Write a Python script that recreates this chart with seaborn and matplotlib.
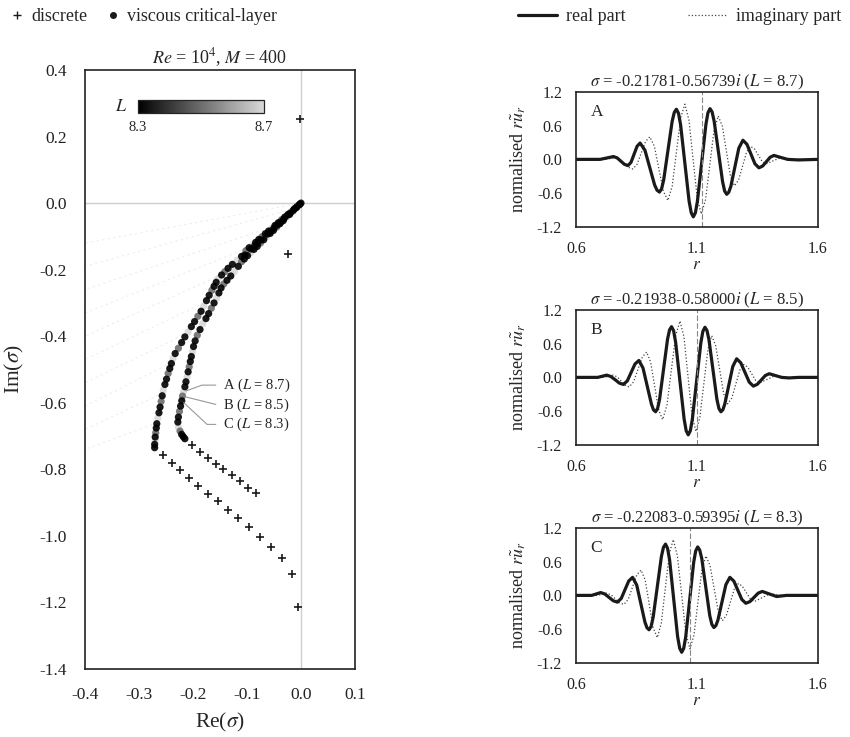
import numpy as np
import pandas as pd
import seaborn as sns
import matplotlib.pyplot as plt
from matplotlib.colors import ListedColormap, Normalize
from matplotlib.cm import ScalarMappable
from matplotlib.lines import Line2D

sns.set_theme(style='white')
plt.rcParams['font.family'] = ['Liberation Serif', 'DejaVu Serif']
plt.rcParams['mathtext.fontset'] = 'stix'
plt.rcParams['axes.unicode_minus'] = False

# ---- spectrum (left panel) ----
# discrete modes
disc_re = [-0.201, -0.187, -0.173, -0.158, -0.144, -0.128, -0.113, -0.098, -0.083,
           -0.255, -0.239, -0.224, -0.207, -0.190, -0.173, -0.154, -0.136, -0.117,
           -0.096, -0.076, -0.056, -0.035, -0.016, -0.006, -0.002, -0.024]
disc_im = [-0.726, -0.748, -0.766, -0.783, -0.800, -0.818, -0.836, -0.855, -0.871,
           -0.756, -0.780, -0.803, -0.826, -0.850, -0.873, -0.896, -0.921, -0.946,
           -0.973, -1.002, -1.032, -1.066, -1.116, -1.214, 0.252, -0.153]

# viscous critical-layer modes, outer branch
outer_re = [0.000, -0.006, -0.012, -0.018, -0.024, -0.030, -0.036, -0.042, -0.048,
            -0.054, -0.060, -0.066, -0.072, -0.078, -0.084, -0.090, -0.096, -0.102,
            -0.110, -0.118, -0.127, -0.135, -0.141, -0.147, -0.153, -0.157, -0.161,
            -0.165, -0.170, -0.175, -0.180, -0.185, -0.191, -0.197, -0.203, -0.209,
            -0.215, -0.221, -0.227, -0.233, -0.237, -0.240, -0.243, -0.246, -0.249,
            -0.252, -0.255, -0.257, -0.259, -0.261, -0.263, -0.265, -0.267, -0.268,
            -0.269, -0.270, -0.270, -0.271, -0.271]
outer_im = [0.000, -0.008, -0.017, -0.025, -0.034, -0.042, -0.050, -0.059, -0.067,
            -0.076, -0.084, -0.092, -0.101, -0.109, -0.118, -0.126, -0.134, -0.143,
            -0.160, -0.171, -0.184, -0.196, -0.206, -0.216, -0.226, -0.238, -0.250,
            -0.262, -0.277, -0.293, -0.309, -0.325, -0.340, -0.356, -0.371, -0.387,
            -0.402, -0.419, -0.436, -0.452, -0.467, -0.482, -0.497, -0.512, -0.529,
            -0.545, -0.562, -0.579, -0.596, -0.613, -0.630, -0.646, -0.663, -0.676,
            -0.690, -0.703, -0.714, -0.725, -0.735]
outer_L = [8.3, 8.5, 8.3, 8.7, 8.3, 8.3, 8.5, 8.3, 8.3, 8.7, 8.3, 8.3, 8.5, 8.3,
           8.3, 8.7, 8.3, 8.5, 8.3, 8.7, 8.3, 8.3, 8.5, 8.3, 8.7, 8.3, 8.3, 8.5,
           8.3, 8.3, 8.7, 8.3, 8.5, 8.3, 8.3, 8.7, 8.3, 8.3, 8.5, 8.3, 8.7, 8.3,
           8.3, 8.5, 8.3, 8.3, 8.7, 8.3, 8.5, 8.3, 8.3, 8.7, 8.3, 8.3, 8.5, 8.3,
           8.7, 8.3, 8.3]

# viscous critical-layer modes, middle of the merged band
band_re = [-0.002, -0.008, -0.014, -0.020, -0.026, -0.032, -0.038, -0.044, -0.050,
           -0.056, -0.062, -0.068, -0.074, -0.080, -0.086, -0.092, -0.098, -0.104]
band_im = [-0.003, -0.012, -0.021, -0.030, -0.039, -0.048, -0.057, -0.066, -0.075,
           -0.084, -0.093, -0.102, -0.111, -0.120, -0.129, -0.138, -0.147, -0.156]
band_L = [8.3, 8.3, 8.3, 8.3, 8.5, 8.3, 8.3, 8.3, 8.3, 8.3, 8.3, 8.5, 8.3, 8.3,
          8.3, 8.3, 8.7, 8.3]

# viscous critical-layer modes, inner branch
inner_re = [-0.003, -0.009, -0.015, -0.021, -0.027, -0.033, -0.039, -0.045, -0.051,
            -0.057, -0.063, -0.069, -0.075, -0.081, -0.087, -0.093, -0.099, -0.105,
            -0.110, -0.116, -0.123, -0.130, -0.137, -0.143, -0.148, -0.152, -0.156,
            -0.161, -0.166, -0.171, -0.176, -0.182, -0.187, -0.192, -0.196, -0.199,
            -0.201, -0.203, -0.205, -0.207, -0.209, -0.211, -0.213, -0.215, -0.2178,
            -0.2194, -0.2208, -0.223, -0.225, -0.227, -0.228, -0.227, -0.224, -0.221,
            -0.218, -0.215]
inner_im = [-0.005, -0.014, -0.024, -0.034, -0.043, -0.053, -0.062, -0.072, -0.082,
            -0.091, -0.101, -0.110, -0.120, -0.130, -0.139, -0.149, -0.158, -0.168,
            -0.176, -0.190, -0.205, -0.219, -0.232, -0.243, -0.255, -0.270, -0.285,
            -0.300, -0.316, -0.332, -0.347, -0.363, -0.380, -0.397, -0.414, -0.431,
            -0.446, -0.461, -0.476, -0.492, -0.507, -0.522, -0.537, -0.552, -0.5674,
            -0.580, -0.594, -0.610, -0.626, -0.643, -0.658, -0.673, -0.685, -0.695,
            -0.702, -0.708]
inner_L = [8.3, 8.3, 8.5, 8.3, 8.7, 8.3, 8.3, 8.5, 8.3, 8.3, 8.7, 8.3, 8.5, 8.3,
           8.3, 8.7, 8.3, 8.3, 8.5, 8.3, 8.7, 8.3, 8.3, 8.5, 8.3, 8.3, 8.7, 8.3,
           8.5, 8.3, 8.3, 8.7, 8.3, 8.5, 8.3, 8.3, 8.7, 8.3, 8.3, 8.5, 8.3, 8.7,
           8.3, 8.3, 8.7, 8.5, 8.3, 8.3, 8.5, 8.3, 8.3, 8.7, 8.5, 8.3, 8.3, 8.3]

# faint continuous-spectrum streaks (start and end points)
faint_x0 = [0.000, -0.020, -0.050, -0.090, -0.140, -0.180, -0.210, -0.240, -0.255, -0.266]
faint_y0 = [0.000, -0.020, -0.070, -0.130, -0.210, -0.300, -0.390, -0.480, -0.570, -0.660]
faint_x1 = [-0.40, -0.40, -0.40, -0.40, -0.40, -0.40, -0.40, -0.40, -0.40, -0.40]
faint_y1 = [-0.12, -0.19, -0.26, -0.33, -0.40, -0.47, -0.54, -0.61, -0.68, -0.74]

# labelled modes
mode_names = ['A', 'B', 'C']
mode_L = [8.7, 8.5, 8.3]
mode_re = [-0.21781, -0.21938, -0.22083]
mode_im = [-0.56739, -0.58000, -0.59395]
mode_rc = [1.122, 1.099, 1.071]   # critical layer radius

# ---- eigenfunctions (right panels) ----
r_a_real = [0.600, 0.700, 0.7275, 0.755, 0.770, 0.785, 0.800, 0.815, 0.8275, 0.840, 0.8525, 0.865,
            0.885, 0.905, 0.925, 0.935, 0.945, 0.9537, 0.9625, 0.980, 0.9975, 1.0063, 1.015, 1.0238,
            1.0325, 1.050, 1.0675, 1.0763, 1.085, 1.0936, 1.102, 1.1195, 1.137, 1.1454, 1.154, 1.1626,
            1.171, 1.1885, 1.206, 1.2144, 1.223, 1.2314, 1.240, 1.2565, 1.273, 1.290,
            1.3065, 1.323, 1.3395, 1.356, 1.3715, 1.387, 1.4025, 1.418, 1.446, 1.475, 1.520, 1.600]
u_a_real = [0.000, 0.000, 0.025, 0.050, 0.027, -0.030, -0.087, -0.110, -0.052, 0.090, 0.232, 0.290,
            0.163, -0.145, -0.453, -0.547, -0.580, -0.524, -0.365, 0.155, 0.675, 0.834, 0.890, 0.817,
            0.611, -0.065, -0.741, -0.947, -1.020, -0.947, -0.740, -0.060, 0.620, 0.827, 0.900, 0.842,
            0.678, 0.140, -0.398, -0.562, -0.620, -0.583, -0.479, -0.140, 0.199, 0.340,
            0.268, 0.095, -0.078, -0.150, -0.118, -0.040, 0.038, 0.070, 0.035, 0.000, -0.010, 0.000]
r_a_imag = [0.600, 0.720, 0.740, 0.760, 0.779, 0.7975, 0.816, 0.835, 0.8525, 0.870, 0.8875, 0.905,
            0.924, 0.9425, 0.961, 0.980, 0.9975, 1.015, 1.0325, 1.050, 1.067, 1.084, 1.101, 1.118,
            1.1355, 1.153, 1.1705, 1.188, 1.205, 1.2215, 1.238, 1.255, 1.272, 1.2885, 1.305, 1.322,
            1.338, 1.3535, 1.369, 1.385, 1.4125, 1.440, 1.470, 1.500, 1.600]
u_a_imag = [0.000, 0.000, 0.015, 0.030, 0.001, -0.070, -0.141, -0.170, -0.087, 0.115, 0.317, 0.400,
            0.235, -0.165, -0.565, -0.730, -0.480, 0.125, 0.730, 0.980, 0.695, 0.005, -0.685, -0.970,
            -0.716, -0.100, 0.516, 0.770, 0.589, 0.150, -0.289, -0.470, -0.367, -0.120, 0.127, 0.230,
            0.184, 0.075, -0.034, -0.080, -0.030, 0.020, 0.010, 0.000, 0.000]

r_b_real = [0.600, 0.690, 0.7085, 0.727, 0.744, 0.7615, 0.779, 0.796, 0.812, 0.828, 0.844, 0.860,
            0.877, 0.8945, 0.912, 0.9204, 0.929, 0.9373, 0.9455, 0.962, 0.9785, 0.9868, 0.995, 1.0036,
            1.012, 1.0295, 1.047, 1.0554, 1.064, 1.0726, 1.081, 1.0985, 1.116, 1.1244, 1.133, 1.1413,
            1.1495, 1.166, 1.1825, 1.1908, 1.199, 1.2071, 1.215, 1.2315, 1.248, 1.264,
            1.281, 1.2985, 1.316, 1.333, 1.3495, 1.366, 1.3825, 1.399, 1.4245, 1.450, 1.480, 1.520, 1.600]
u_b_real = [0.000, 0.000, 0.020, 0.040, 0.016, -0.040, -0.101, -0.125, -0.063, 0.088, 0.238, 0.300,
            0.167, -0.155, -0.477, -0.576, -0.610, -0.553, -0.390, 0.145, 0.680, 0.843, 0.900, 0.827,
            0.620, -0.060, -0.740, -0.947, -1.020, -0.947, -0.741, -0.065, 0.611, 0.817, 0.890, 0.833,
            0.671, 0.140, -0.391, -0.553, -0.610, -0.574, -0.473, -0.140, 0.193, 0.330,
            0.259, 0.088, -0.084, -0.155, -0.123, -0.045, 0.033, 0.065, 0.032, 0.000, -0.010, 0.000, 0.000]
r_b_imag = [0.600, 0.715, 0.7345, 0.754, 0.7705, 0.787, 0.8035, 0.820, 0.838, 0.856, 0.874, 0.892,
            0.9085, 0.925, 0.9415, 0.958, 0.976, 0.994, 1.012, 1.030, 1.0465, 1.063, 1.0795, 1.096,
            1.112, 1.1285, 1.145, 1.161, 1.1775, 1.194, 1.2105, 1.227, 1.244, 1.2605, 1.277, 1.294,
            1.310, 1.326, 1.342, 1.358, 1.388, 1.418, 1.444, 1.470, 1.600]
u_b_imag = [0.000, 0.000, 0.020, 0.040, 0.009, -0.065, -0.139, -0.170, -0.079, 0.140, 0.359, 0.450,
            0.274, -0.150, -0.575, -0.750, -0.495, 0.125, 0.744, 1.000, 0.714, 0.020, -0.674, -0.960,
            -0.712, -0.110, 0.492, 0.740, 0.563, 0.135, -0.293, -0.470, -0.367, -0.120, 0.127, 0.230,
            0.181, 0.065, -0.051, -0.100, -0.040, 0.020, 0.010, 0.000, 0.000]

r_c_real = [0.600, 0.665, 0.6835, 0.702, 0.719, 0.7365, 0.754, 0.771, 0.787, 0.8025, 0.818, 0.834,
            0.851, 0.868, 0.885, 0.8935, 0.902, 0.9105, 0.919, 0.936, 0.953, 0.9615, 0.970, 0.9784,
            0.987, 1.0035, 1.020, 1.0286, 1.037, 1.0453, 1.0535, 1.070, 1.0865, 1.0948, 1.103, 1.1114,
            1.120, 1.1365, 1.153, 1.1616, 1.170, 1.1783, 1.1865, 1.203, 1.2195, 1.236,
            1.2525, 1.269, 1.2855, 1.302, 1.319, 1.336, 1.353, 1.370, 1.3995, 1.429, 1.450, 1.470, 1.600]
u_c_real = [0.000, 0.000, 0.025, 0.050, 0.025, -0.035, -0.095, -0.120, -0.055, 0.100, 0.255, 0.320,
            0.184, -0.145, -0.474, -0.575, -0.610, -0.552, -0.388, 0.150, 0.688, 0.852, 0.910, 0.837,
            0.630, -0.050, -0.730, -0.937, -1.010, -0.939, -0.737, -0.075, 0.587, 0.789, 0.860, 0.805,
            0.651, 0.145, -0.361, -0.515, -0.570, -0.536, -0.440, -0.125, 0.190, 0.320,
            0.253, 0.090, -0.073, -0.140, -0.110, -0.035, 0.040, 0.070, 0.025, -0.020, -0.010, 0.000, 0.000]
r_c_imag = [0.600, 0.690, 0.7085, 0.727, 0.745, 0.7625, 0.780, 0.798, 0.816, 0.8335, 0.851, 0.869,
            0.886, 0.9025, 0.919, 0.936, 0.9525, 0.969, 0.9855, 1.002, 1.019, 1.0365, 1.054, 1.071,
            1.0875, 1.104, 1.1205, 1.137, 1.154, 1.171, 1.188, 1.205, 1.2215, 1.238, 1.2545, 1.271,
            1.2875, 1.304, 1.3205, 1.337, 1.3695, 1.402, 1.426, 1.450, 1.600]
u_c_imag = [0.000, 0.000, 0.020, 0.040, 0.011, -0.060, -0.131, -0.160, -0.071, 0.145, 0.361, 0.450,
            0.274, -0.150, -0.575, -0.750, -0.496, 0.120, 0.735, 0.990, 0.706, 0.020, -0.666, -0.950,
            -0.709, -0.125, 0.459, 0.700, 0.532, 0.125, -0.282, -0.450, -0.353, -0.120, 0.113, 0.210,
            0.163, 0.050, -0.063, -0.110, -0.040, 0.030, 0.015, 0.000, 0.000]

curves = {'A': (r_a_real, u_a_real, r_a_imag, u_a_imag),
          'B': (r_b_real, u_b_real, r_b_imag, u_b_imag),
          'C': (r_c_real, u_c_real, r_c_imag, u_c_imag)}

# grey colour scale used for L
gray_cmap = ListedColormap(plt.cm.gray(np.linspace(0.0, 0.85, 256)))
L_norm = Normalize(8.3, 8.7)

fig = plt.figure(figsize=(8.5, 7.37), dpi=100)

# ---------------- left: spectrum ----------------
ax = fig.add_axes([0.1, 0.0923, 0.3176, 0.8127])

for x0, y0, x1, y1 in zip(faint_x0, faint_y0, faint_x1, faint_y1):
    ax.plot([x0, x1], [y0, y1], color='#ededed', lw=0.8, ls=(0, (2, 3)), zorder=1)
ax.axhline(0, color='#cfcfcf', lw=1.0, zorder=1)
ax.axvline(0, color='#cfcfcf', lw=1.0, zorder=1)

crit = pd.DataFrame({'re': outer_re + band_re + inner_re,
                     'im': outer_im + band_im + inner_im,
                     'L': outer_L + band_L + inner_L}).sort_values('L', ascending=False)
sns.scatterplot(data=crit, x='re', y='im', hue='L', palette=gray_cmap, hue_norm=L_norm,
                s=27, linewidth=0, alpha=0.9, legend=False, ax=ax, zorder=3)
sns.scatterplot(x=disc_re, y=disc_im, marker='+', color='k', s=26, linewidth=1.2, ax=ax, zorder=4)

ax.set_xlim(-0.4, 0.1)
ax.set_ylim(-1.4, 0.4)
ax.set_xticks([-0.4, -0.3, -0.2, -0.1, 0.0, 0.1])
ax.set_yticks([0.4, 0.2, 0.0, -0.2, -0.4, -0.6, -0.8, -1.0, -1.2, -1.4])
ax.xaxis.set_major_formatter(plt.FormatStrFormatter('%.1f'))
ax.yaxis.set_major_formatter(plt.FormatStrFormatter('%.1f'))
ax.tick_params(length=0, labelsize=12.5, pad=13, colors='#222222')
for s in ax.spines.values():
    s.set_color('#222222')
    s.set_linewidth(1.2)
ax.set_xlabel(r'Re($\sigma$)', fontsize=15.5, labelpad=6)
ax.set_ylabel(r'Im($\sigma$)', fontsize=15.5, labelpad=10)
ax.set_title(r'$Re$ = 10$^4$, $M$ = 400', fontsize=13, pad=5)

angles = [20, -14, -43]
ytext = [-0.547, -0.607, -0.665]
for name, Lv, re, im, ang, yt in zip(mode_names, mode_L, mode_re, mode_im, angles, ytext):
    ax.annotate(f'{name} ($L$ = {Lv})', xy=(re, im), xytext=(-0.144, yt),
                fontsize=10.5, va='center', ha='left',
                arrowprops=dict(arrowstyle='-', color='#999999', lw=0.8, shrinkA=3, shrinkB=2,
                                connectionstyle=f'angle,angleA=0,angleB={ang},rad=0'))

# colour bar for L
cax = ax.inset_axes([0.195, 0.929, 0.468, 0.021])
cb = fig.colorbar(ScalarMappable(norm=L_norm, cmap=gray_cmap), cax=cax,
                  orientation='horizontal', ticks=[8.3, 8.7])
cb.ax.tick_params(length=0, labelsize=10.5, pad=6)
cb.outline.set_linewidth(0.9)
cax.text(-0.08, 0.5, '$L$', transform=cax.transAxes, ha='right', va='center', fontsize=13)

# ---------------- right: eigenfunctions ----------------
panel_pos = {'A': 0.692, 'B': 0.3962, 'C': 0.1004}
for name, sig_re, sig_im, Lv, rc in zip(mode_names, mode_re, mode_im, mode_L, mode_rc):
    axr = fig.add_axes([0.6776, panel_pos[name], 0.2847, 0.1835])
    r_re, u_re, r_im, u_im = curves[name]
    sns.lineplot(x=r_im, y=u_im, color='#444444', lw=0.9, ls=':', ax=axr, estimator=None, sort=False)
    sns.lineplot(x=r_re, y=u_re, color='k', lw=2.3, ax=axr, estimator=None, sort=False,
                 solid_joinstyle='round')
    axr.axvline(rc, color='#888888', lw=0.8, ls=(0, (5, 2)))
    axr.set_xlim(0.6, 1.6)
    axr.set_ylim(-1.2, 1.2)
    axr.set_xticks([0.6, 1.1, 1.6])
    axr.set_yticks([-1.2, -0.6, 0.0, 0.6, 1.2])
    axr.xaxis.set_major_formatter(plt.FormatStrFormatter('%.1f'))
    axr.yaxis.set_major_formatter(plt.FormatStrFormatter('%.1f'))
    axr.tick_params(length=0, labelsize=11.5, pad=10, colors='#222222')
    for s in axr.spines.values():
        s.set_color('#222222')
        s.set_linewidth(1.2)
    axr.set_xlabel('$r$', fontsize=12.5, labelpad=0)
    axr.set_ylabel(r'normalised $r\tilde{u}_r$', fontsize=13, labelpad=6)
    axr.set_title(rf'$\sigma$ = {sig_re:.5f}{sig_im:.5f}$i$ ($L$ = {Lv})', fontsize=12, pad=4)
    axr.text(0.06, 0.85, name, transform=axr.transAxes, fontsize=12.5, va='center')

# ---------------- legends ----------------
h_disc = Line2D([], [], marker='+', color='k', ls='none', markersize=6, mew=1.0)
h_crit = Line2D([], [], marker='o', color='k', ls='none', markersize=4)
fig.legend([h_disc, h_crit], ['discrete', 'viscous critical-layer'], loc='center left',
           bbox_to_anchor=(-0.008, 0.977), ncol=2, frameon=False, fontsize=13,
           handlelength=0.8, handletextpad=0.4, columnspacing=1.0)
h_real = Line2D([], [], color='k', lw=2.3)
h_imag = Line2D([], [], color='#444444', lw=0.9, ls=':')
fig.legend([h_real, h_imag], ['real part', 'imaginary part'], loc='center left',
           bbox_to_anchor=(0.59, 0.977), ncol=2, frameon=False, fontsize=13,
           handlelength=2.2, handletextpad=0.5, columnspacing=3.4)

fig.savefig('out.png', dpi=100)
